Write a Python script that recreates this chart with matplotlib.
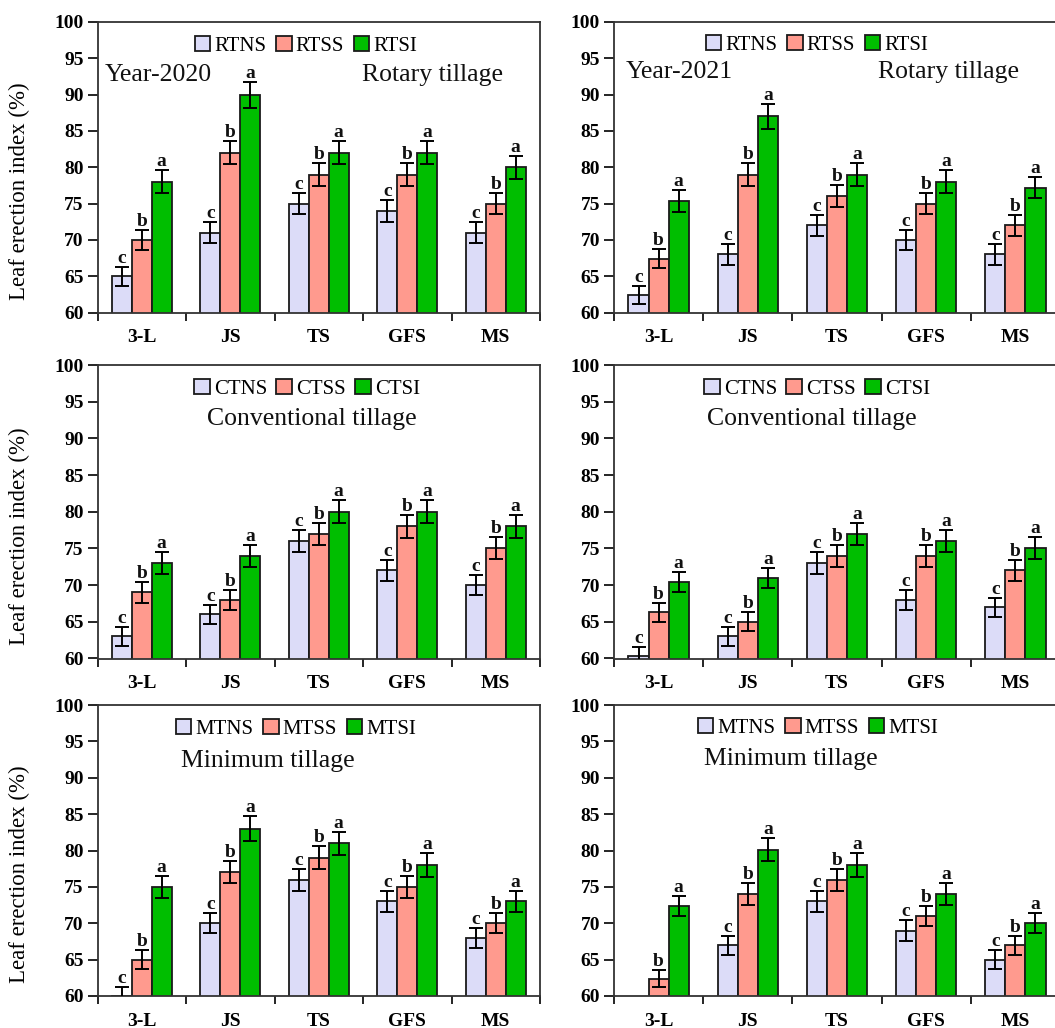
import numpy as np
import matplotlib
matplotlib.use('Agg')
import matplotlib.pyplot as plt

W, H = 1055, 1028
plt.rcParams['font.family'] = ['Liberation Serif', 'DejaVu Serif']

stages = ['3-L', 'JS', 'TS', 'GFS', 'MS']
ticks_y = [60, 65, 70, 75, 80, 85, 90, 95, 100]

# ---- Rotary tillage, 2020 ----
rt20_ns = [65, 71, 75, 74, 71]
rt20_ss = [70, 82, 79, 79, 75]
rt20_si = [78, 90, 82, 82, 80]
rt20_ns_err = [1.3, 1.4, 1.5, 1.5, 1.4]
rt20_ss_err = [1.4, 1.6, 1.6, 1.6, 1.5]
rt20_si_err = [1.6, 1.8, 1.6, 1.6, 1.6]

# ---- Rotary tillage, 2021 ----
rt21_ns = [62.4, 68, 72, 70, 68]
rt21_ss = [67.4, 79, 76, 75, 72]
rt21_si = [75.4, 87, 79, 78, 77.2]
rt21_ns_err = [1.2, 1.4, 1.4, 1.4, 1.4]
rt21_ss_err = [1.3, 1.6, 1.5, 1.5, 1.4]
rt21_si_err = [1.5, 1.7, 1.6, 1.6, 1.5]

# ---- Conventional tillage, 2020 ----
ct20_ns = [63, 66, 76, 72, 70]
ct20_ss = [69, 68, 77, 78, 75]
ct20_si = [73, 74, 80, 80, 78]
ct20_ns_err = [1.3, 1.3, 1.5, 1.4, 1.4]
ct20_ss_err = [1.4, 1.4, 1.5, 1.6, 1.5]
ct20_si_err = [1.5, 1.5, 1.6, 1.6, 1.6]

# ---- Conventional tillage, 2021 ----
ct21_ns = [60.3, 63, 73, 68, 67]
ct21_ss = [66.3, 65, 74, 74, 72]
ct21_si = [70.4, 71, 77, 76, 75]
ct21_ns_err = [1.2, 1.3, 1.5, 1.4, 1.3]
ct21_ss_err = [1.3, 1.3, 1.5, 1.5, 1.4]
ct21_si_err = [1.4, 1.4, 1.5, 1.5, 1.5]

# ---- Minimum tillage, 2020 ----
mt20_ns = [60.0, 70, 76, 73, 68]
mt20_ss = [65, 77, 79, 75, 70]
mt20_si = [75, 83, 81, 78, 73]
mt20_ns_err = [1.2, 1.4, 1.5, 1.5, 1.4]
mt20_ss_err = [1.3, 1.5, 1.6, 1.5, 1.4]
mt20_si_err = [1.5, 1.7, 1.6, 1.6, 1.5]

# ---- Minimum tillage, 2021 (3-L MTNS below axis, not shown) ----
mt21_ns = [np.nan, 67, 73, 69, 65]
mt21_ss = [62.4, 74, 76, 71, 67]
mt21_si = [72.4, 80.1, 78, 74, 70]
mt21_ns_err = [np.nan, 1.3, 1.5, 1.4, 1.3]
mt21_ss_err = [1.2, 1.5, 1.5, 1.4, 1.3]
mt21_si_err = [1.4, 1.6, 1.6, 1.5, 1.4]

letters_ns = ['c', 'c', 'c', 'c', 'c']
letters_ss = ['b', 'b', 'b', 'b', 'b']
letters_si = ['a', 'a', 'a', 'a', 'a']
letters_mt21_ns = ['', 'c', 'c', 'c', 'c']

colors = ['#DCDCF8', '#FF9A8E', '#00BE00']

panels = [
    dict(rect=(97.5, 22, 540, 312.5), names=['RTNS', 'RTSS', 'RTSI'],
         vals=[rt20_ns, rt20_ss, rt20_si], errs=[rt20_ns_err, rt20_ss_err, rt20_si_err],
         lets=[letters_ns, letters_ss, letters_si], leg=(306, 46),
         texts=[('Year-2020', 105, 75, 'left'), ('Rotary tillage', 432, 75, 'center')], ylabel=True),
    dict(rect=(614, 22, 1060, 312.5), names=['RTNS', 'RTSS', 'RTSI'],
         vals=[rt21_ns, rt21_ss, rt21_si], errs=[rt21_ns_err, rt21_ss_err, rt21_si_err],
         lets=[letters_ns, letters_ss, letters_si], leg=(817, 45),
         texts=[('Year-2021', 626, 72, 'left'), ('Rotary tillage', 948, 72, 'center')], ylabel=False),
    dict(rect=(97.5, 365, 540, 658.5), names=['CTNS', 'CTSS', 'CTSI'],
         vals=[ct20_ns, ct20_ss, ct20_si], errs=[ct20_ns_err, ct20_ss_err, ct20_si_err],
         lets=[letters_ns, letters_ss, letters_si], leg=(307, 389),
         texts=[('Conventional tillage', 312, 419, 'center')], ylabel=True),
    dict(rect=(614, 365, 1060, 658.5), names=['CTNS', 'CTSS', 'CTSI'],
         vals=[ct21_ns, ct21_ss, ct21_si], errs=[ct21_ns_err, ct21_ss_err, ct21_si_err],
         lets=[letters_ns, letters_ss, letters_si], leg=(817, 389),
         texts=[('Conventional tillage', 812, 419, 'center')], ylabel=False),
    dict(rect=(97.5, 705, 540, 996), names=['MTNS', 'MTSS', 'MTSI'],
         vals=[mt20_ns, mt20_ss, mt20_si], errs=[mt20_ns_err, mt20_ss_err, mt20_si_err],
         lets=[letters_ns, letters_ss, letters_si], leg=(296, 729),
         texts=[('Minimum tillage', 268, 761, 'center')], ylabel=True),
    dict(rect=(614, 705, 1060, 996), names=['MTNS', 'MTSS', 'MTSI'],
         vals=[mt21_ns, mt21_ss, mt21_si], errs=[mt21_ns_err, mt21_ss_err, mt21_si_err],
         lets=[letters_mt21_ns, letters_ss, letters_si], leg=(818, 728),
         texts=[('Minimum tillage', 791, 759, 'center')], ylabel=False),
]

fig = plt.figure(figsize=(W / 100, H / 100), dpi=100)
x = np.arange(len(stages))
bw = 0.225

for p in panels:
    x0, y0, x1, y1 = p['rect']
    ax = fig.add_axes([x0 / W, 1 - y1 / H, (x1 - x0) / W, (y1 - y0) / H])
    handles = []
    for i in range(3):
        xs = x + (i - 1) * bw
        v = np.array(p['vals'][i], dtype=float)
        e = np.array(p['errs'][i], dtype=float)
        b = ax.bar(xs, v, width=bw, color=colors[i], edgecolor='#1a1a1a',
                   linewidth=1.3, label=p['names'][i], zorder=2)
        handles.append(b)
        ax.errorbar(xs, v, yerr=e, fmt='none', ecolor='black', elinewidth=1.4,
                    capsize=5, capthick=1.4, zorder=3)
        for xi, vi, ei, lt in zip(xs, v, e, p['lets'][i]):
            if lt and not np.isnan(vi):
                ax.annotate(lt, (xi, vi + ei), xytext=(0, 0), textcoords='offset points',
                            ha='center', va='bottom', fontsize=14, fontweight='bold',
                            color='#111111', zorder=4)
    ax.set_ylim(60, 100)
    ax.set_xlim(-0.5, len(stages) - 0.5)
    ax.set_yticks(ticks_y)
    ax.set_yticklabels([str(t) for t in ticks_y], fontsize=14, fontweight='bold')
    ax.tick_params(axis='y', direction='out', length=7, width=1.2, pad=3)
    ax.set_xticks(np.arange(-0.5, len(stages), 1.0))
    ax.set_xticklabels([])
    ax.tick_params(axis='x', which='major', direction='out', length=6, width=1.2)
    ax.set_xticks(x, minor=True)
    ax.set_xticklabels(stages, minor=True, fontsize=14, fontweight='bold')
    ax.tick_params(axis='x', which='minor', length=0, pad=12)
    for s in ax.spines.values():
        s.set_linewidth(1.3)
        s.set_color('#333333')
    if p['ylabel']:
        ax.set_ylabel('Leaf erection index (%)', fontsize=16.5)
        ax.yaxis.set_label_coords(-0.152, 0.418)
    ax.legend(handles=handles, ncol=3, loc='center',
              bbox_to_anchor=(p['leg'][0] / W, 1 - p['leg'][1] / H),
              bbox_transform=fig.transFigure, frameon=False, fontsize=15,
              handlelength=0.75, handleheight=0.75, handletextpad=0.2,
              columnspacing=0.45, borderpad=0)
    for t, tx, ty, ha in p['texts']:
        fig.text(tx / W, 1 - ty / H, t, ha=ha, va='center', fontsize=18.5, color='#111111')

fig.savefig('out.png', dpi=100)
